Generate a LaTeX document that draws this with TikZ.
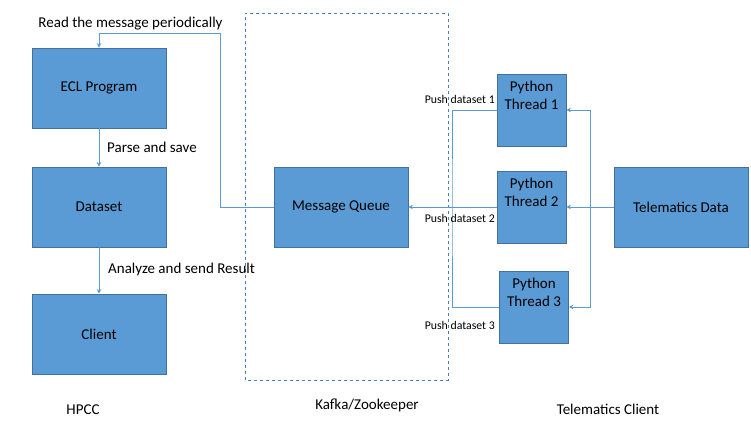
\documentclass[tikz,border=0pt]{standalone}
\usepackage{fontspec}
\setmainfont{Carlito}
\usepackage{tikz}
\usetikzlibrary{arrows.meta}
\usetikzlibrary{positioning}

\definecolor{boxblue}{HTML}{5B9BD5}
\definecolor{boxline}{HTML}{41719C}
\definecolor{wireblue}{HTML}{5B9BD5}
\definecolor{dashblue}{HTML}{4A7EBB}

\begin{document}
\begin{tikzpicture}
		[
		x=1pt, y=1pt,
		font=\fontsize{15}{18}\selectfont,
		>={Stealth[length=4.5pt,width=4.5pt]}
		]
		
		% Box and line styles
		\tikzstyle{block}=[draw=boxline, line width=0.8, fill=boxblue, minimum width=134, minimum height=80, inner sep=0];
		\tikzstyle{thread}=[block, minimum width=69, minimum height=72];
		\tikzstyle{wire}=[draw=wireblue, line width=0.9];
		\tikzstyle{conn}=[wire, ->];
		\tikzstyle{small label}=[font=\fontsize{11.8}{14}\selectfont, inner sep=0];
		
		\useasboundingbox (0,0) rectangle (751,424);
		
		% Kafka/Zookeeper frame
		\draw[dashblue, dashed, line width=0.8] (245,44) rectangle (448,411);
		
		% HPCC side
		\node(ecl)[block] at (99,336) {ECL Program};
		\node(dataset)[block] at (99,217) {Dataset};
		\node(client)[block] at (99,90) {Client};
		
		% Message queue
		\node(mq)[block] at (341,217) {Message Queue};
		
		% Telematics side
		\node(t1)[thread] at (531.5,314) {};
		\node(t2)[thread] at (531.5,217) {};
		\node(t3)[thread] at (534,117) {};
		\node(t1txt)[align=center, inner sep=0, yshift=15] at (t1) {Python\\Thread 1};
		\node(t2txt)[align=center, inner sep=0, yshift=15] at (t2) {Python\\Thread 2};
		\node(t3txt)[align=center, inner sep=0, yshift=15] at (t3) {Python\\Thread 3};
		\node(td)[block] at (681,217) {Telematics Data};
		
		% Bends of the connectors
		\coordinate(top bend) at (220,391);
		\coordinate(left bus) at (452,217);
		\coordinate(right bus) at (590,217);
		
		% Connectors
		\draw[conn] (mq.west) -| (top bend) -| (ecl.north);
		\draw[conn] (ecl.south) -- (dataset.north);
		\draw[conn] (dataset.south) -- (client.north);
		\draw[wire] (t1.west) -| (left bus) |- (t3.west);
		\draw[conn] (t2.west) -- (mq.east);
		\draw[wire] (td.west) -- (right bus);
		\draw[conn] (right bus) |- (t1.east);
		\draw[conn] (right bus) -- (t2.east);
		\draw[conn] (right bus) |- (t3.east);
		
		% Connector labels
		\node(read)[inner sep=0] at (130.5,400) {Read the message periodically};
		\node(parse)[anchor=west, inner sep=0] at (107,277) {Parse and save};
		\node(analyze)[anchor=west, inner sep=0] at (108,155) {Analyze and send Result};
		\node(push1)[small label, anchor=east] at (495,325) {Push dataset 1};
		\node(push2)[small label, anchor=east] at (495,206) {Push dataset 2};
		\node(push3)[small label, anchor=east] at (495,99) {Push dataset 3};
		
		% Group names
		\node(hpcc)[inner sep=0] at (83,14) {HPCC};
		\node(kafka)[inner sep=0] at (367,19) {Kafka/Zookeeper};
		\node(tclient)[inner sep=0] at (608,15) {Telematics Client};
\end{tikzpicture}
\end{document}
